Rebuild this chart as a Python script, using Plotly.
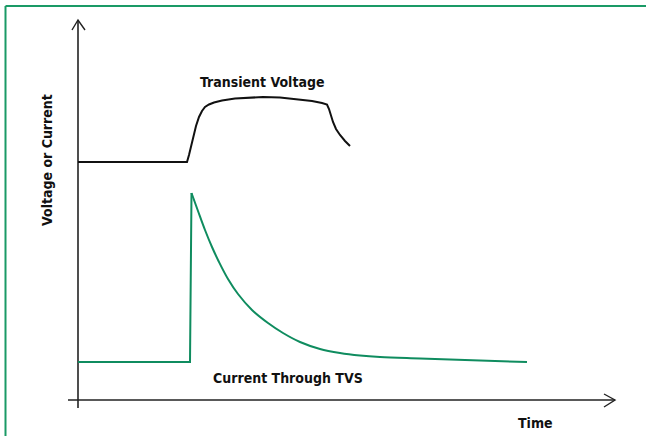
import plotly.graph_objects as go

# Time (arbitrary units, origin at the vertical axis) and signal levels (arbitrary units above the time axis)
voltage_t = [0, 109, 111, 113, 115, 118, 121, 124, 127, 131, 136, 144, 157, 172, 185, 202, 219, 234, 244,
             249, 251, 253, 255, 258, 262, 267, 272]
voltage_v = [238, 238, 245, 254, 263, 274, 283, 289, 293, 295.5, 297.5, 299.5, 301.5, 302.5, 303, 302.5,
             301, 299, 297, 295.5, 291, 284, 278, 271, 265, 259, 254]

current_t = [0, 112, 113.5, 120, 127, 134, 141, 150, 160, 174, 190, 205, 222, 242, 262, 282, 302, 342, 449]
current_v = [38, 38, 207, 189, 170, 153, 138, 121, 106, 90, 77, 67, 58, 51, 47, 44.5, 43, 41.5, 38]

voltage_label = "Transient Voltage"
current_label = "Current Through TVS"
x_title = "Time"
y_title = "Voltage or Current"

GREEN = "#0f8c5f"
BLACK = "#111111"
FONT = "DejaVu Sans Condensed, Liberation Sans Narrow, sans-serif"

fig = go.Figure()

# axes drawn as arrows
axis_col = "#222222"
fig.add_trace(go.Scatter(x=[0, 0], y=[-8, 380], mode="lines",
                         line=dict(color=axis_col, width=1.6), hoverinfo="skip", showlegend=False))
fig.add_trace(go.Scatter(x=[-6, 0, 7], y=[370, 380, 370], mode="lines",
                         line=dict(color=axis_col, width=1.4), hoverinfo="skip", showlegend=False))
fig.add_trace(go.Scatter(x=[-10, 537], y=[0, 0], mode="lines",
                         line=dict(color=axis_col, width=1.6), hoverinfo="skip", showlegend=False))
fig.add_trace(go.Scatter(x=[526, 537, 526], y=[6, 0, -7], mode="lines",
                         line=dict(color=axis_col, width=1.4), hoverinfo="skip", showlegend=False))

fig.add_trace(go.Scatter(x=voltage_t, y=voltage_v, mode="lines", name=voltage_label,
                         line=dict(color=BLACK, width=2), showlegend=False))
# current: step (straight) part, then the smooth decay from the peak
fig.add_trace(go.Scatter(x=current_t[:3], y=current_v[:3], mode="lines", name=current_label,
                         line=dict(color=GREEN, width=2), showlegend=False))
fig.add_trace(go.Scatter(x=current_t[2:], y=current_v[2:], mode="lines", name=current_label,
                         line=dict(color=GREEN, width=2, shape="spline", smoothing=1.0),
                         showlegend=False))

fig.add_annotation(x=184, y=318, text="<b>" + voltage_label + "</b>", showarrow=False,
                   font=dict(family=FONT, size=14, color="#111111"))
fig.add_annotation(x=210, y=22, text="<b>" + current_label + "</b>", showarrow=False,
                   font=dict(family=FONT, size=14, color="#111111"))
fig.add_annotation(x=457, y=-23, text="<b>" + x_title + "</b>", showarrow=False,
                   font=dict(family=FONT, size=14, color="#111111"))
fig.add_annotation(x=-31, y=240, text="<b>" + y_title + "</b>", showarrow=False, textangle=-90,
                   font=dict(family=FONT, size=14, color="#111111"))

# frame lines (top and left)
fig.add_shape(type="line", xref="paper", yref="paper", x0=5.5/646, x1=1, y0=1-6/436, y1=1-6/436,
              line=dict(color="#1a9a66", width=2))
fig.add_shape(type="line", xref="paper", yref="paper", x0=5.5/646, x1=5.5/646, y0=0, y1=1-6/436,
              line=dict(color="#1a9a66", width=2))

fig.update_layout(
    width=646, height=436,
    margin=dict(l=0, r=0, t=0, b=0),
    paper_bgcolor="white", plot_bgcolor="white",
    xaxis=dict(range=[-78, 568], visible=False, fixedrange=True),
    yaxis=dict(range=[-36, 400], visible=False, fixedrange=True),
)

fig.write_html("out.html", config={"displayModeBar": False},
               post_script="document.body.style.margin='0';document.body.style.padding='0';")
